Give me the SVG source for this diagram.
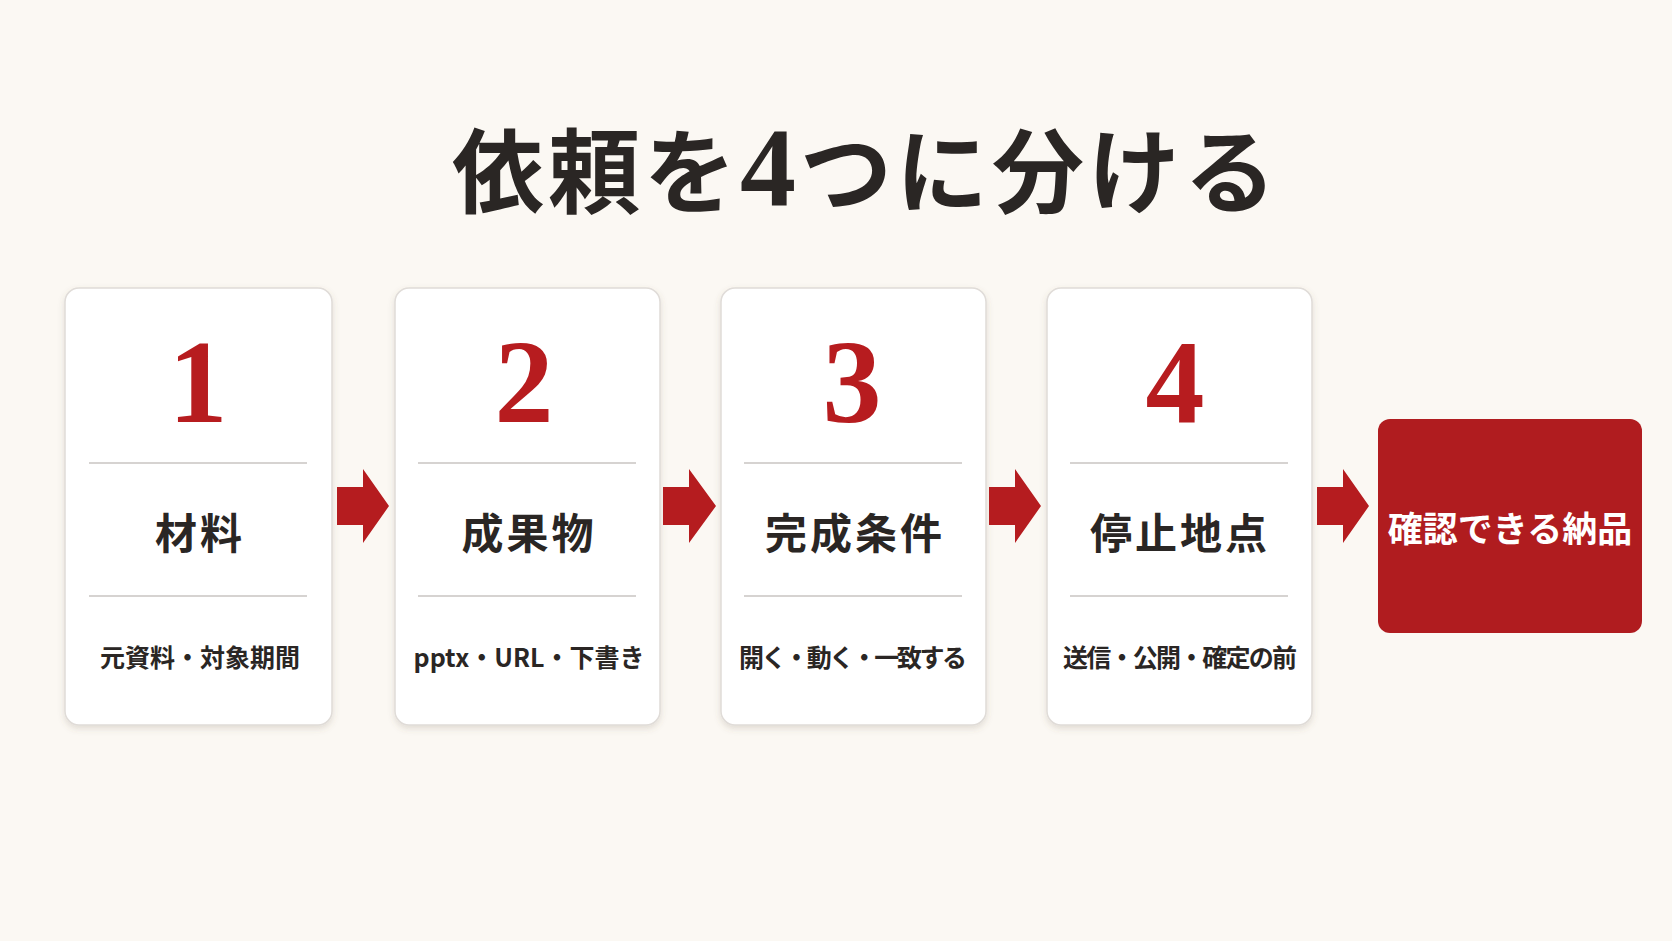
<svg xmlns="http://www.w3.org/2000/svg" width="1672" height="941" viewBox="0 0 1672 941">
  <defs>
    <filter id="sh" x="-10%" y="-10%" width="120%" height="120%">
      <feDropShadow dx="0" dy="3" stdDeviation="3" flood-color="#6b5a4a" flood-opacity="0.18"/>
    </filter>
    <style>
      .card { fill: #ffffff; stroke: #e0dcd8; stroke-width: 1.5; }
      .div { stroke: #d6d3d1; stroke-width: 2; }
      .num { font-family: "Liberation Serif", "DejaVu Serif", serif; font-weight: 700; font-size: 118px; fill: #b71c1f; text-anchor: middle; }
      .head { font-family: "Noto Sans CJK JP", "Noto Sans", sans-serif; font-weight: 700; font-size: 42px; fill: #2a2624; text-anchor: middle; letter-spacing: 3px; }
      .sub { font-family: "Noto Sans CJK JP", "Noto Sans", sans-serif; font-weight: 700; font-size: 25px; fill: #2a2624; text-anchor: middle; }
      .arrow { fill: #b51c1f; }
      .title { font-family: "Liberation Serif", "Noto Sans CJK JP", serif; font-weight: 700; font-size: 92px; fill: #2a2624; text-anchor: middle; letter-spacing: 4px; }
      .final { font-family: "Noto Sans CJK JP", "Noto Sans", sans-serif; font-weight: 700; font-size: 35px; fill: #ffffff; text-anchor: middle; }
    </style>
  </defs>
  <rect x="0" y="0" width="1672" height="941" fill="#fbf8f3"/>

  <g id="title">
    <text class="title" x="866" y="206">依頼を<tspan font-size="112">4</tspan>つに分ける</text>
  </g>

  <g id="card1">
    <rect class="card" x="65" y="288" width="267" height="437" rx="14" filter="url(#sh)"/>
    <text class="num" x="198" y="422">1</text>
    <line class="div" x1="89" y1="463" x2="307" y2="463"/>
    <text class="head" x="200" y="549">材料</text>
    <line class="div" x1="89" y1="596" x2="307" y2="596"/>
    <text class="sub" x="200" y="667">元資料・対象期間</text>
  </g>

  <g id="card2">
    <rect class="card" x="395" y="288" width="265" height="437" rx="14" filter="url(#sh)"/>
    <text class="num" x="524" y="422">2</text>
    <line class="div" x1="418" y1="463" x2="636" y2="463"/>
    <text class="head" x="529" y="549">成果物</text>
    <line class="div" x1="418" y1="596" x2="636" y2="596"/>
    <text class="sub" x="529" y="667">pptx・URL・下書き</text>
  </g>

  <g id="card3">
    <rect class="card" x="721" y="288" width="265" height="437" rx="14" filter="url(#sh)"/>
    <text class="num" x="852" y="422">3</text>
    <line class="div" x1="744" y1="463" x2="962" y2="463"/>
    <text class="head" x="855" y="549">完成条件</text>
    <line class="div" x1="744" y1="596" x2="962" y2="596"/>
    <text class="sub" x="853" y="667" textLength="228" lengthAdjust="spacing">開く・動く・一致する</text>
  </g>

  <g id="card4">
    <rect class="card" x="1047" y="288" width="265" height="437" rx="14" filter="url(#sh)"/>
    <text class="num" x="1175" y="422">4</text>
    <line class="div" x1="1070" y1="463" x2="1288" y2="463"/>
    <text class="head" x="1180" y="549">停止地点</text>
    <line class="div" x1="1070" y1="596" x2="1288" y2="596"/>
    <text class="sub" x="1180" y="667" textLength="234" lengthAdjust="spacing">送信・公開・確定の前</text>
  </g>

  <g id="final">
    <rect x="1378" y="419" width="264" height="214" rx="12" fill="#b01c1f"/>
    <text class="final" x="1510" y="542">確認できる納品</text>
  </g>

  <g id="connectors">
    <path class="arrow" d="M337,487 H363 V469 L389,506 L363,543 V525 H337 Z"/>
    <path class="arrow" d="M663,487 H689 V469 L716,506 L689,543 V525 H663 Z"/>
    <path class="arrow" d="M989,487 H1015 V469 L1041,506 L1015,543 V525 H989 Z"/>
    <path class="arrow" d="M1317,487 H1343 V469 L1369,506 L1343,543 V525 H1317 Z"/>
  </g>
</svg>
